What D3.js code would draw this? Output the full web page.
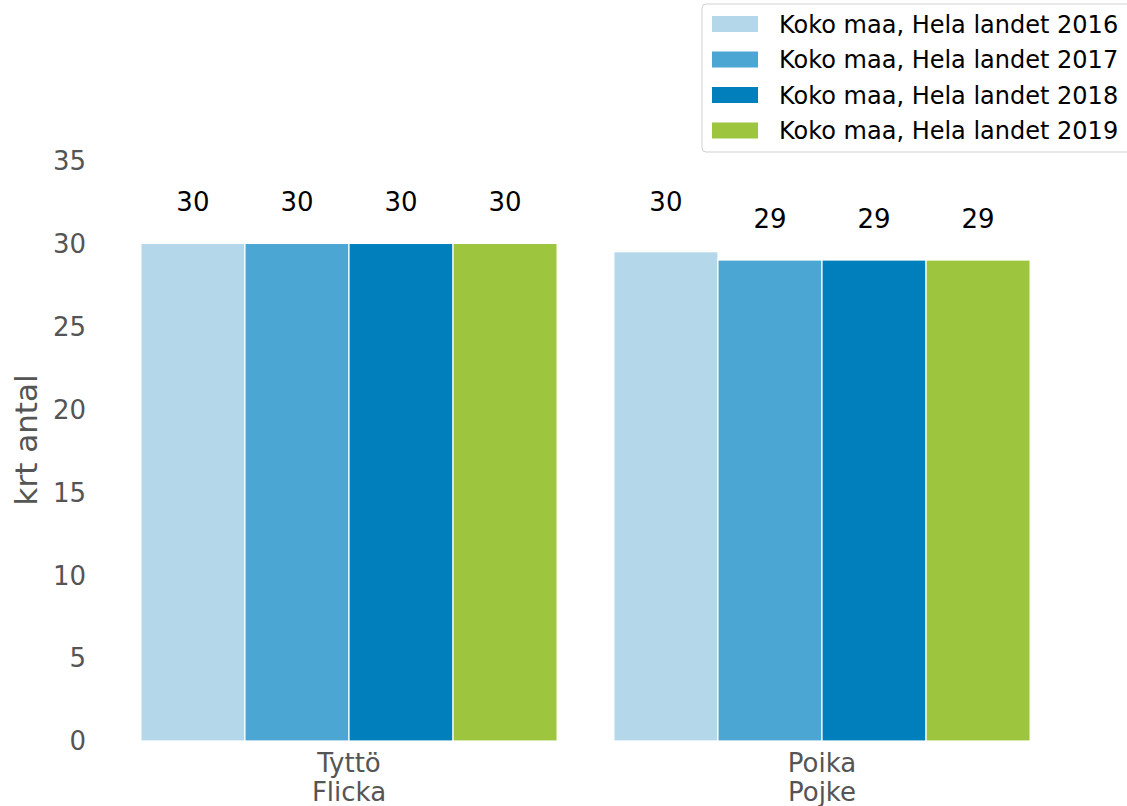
<!DOCTYPE html>
<html>
<head>
<meta charset="utf-8">
<script src="https://cdn.jsdelivr.net/npm/d3@7"></script>
<style>
  body { margin: 0; background: #fff; }
  text { font-family: "DejaVu Sans", sans-serif; }
</style>
</head>
<body>
<svg class="canvas" width="1127" height="806"></svg>
<script>
// data
var categories = ['Tyttö\nFlicka', 'Poika\nPojke'];
var seriesNames = ['Koko maa, Hela landet 2016', 'Koko maa, Hela landet 2017',
                   'Koko maa, Hela landet 2018', 'Koko maa, Hela landet 2019'];
var seriesColors = ['#b4d8ea', '#4ca6d3', '#007fbd', '#9dc53d'];
var values2016 = [30, 29.5];
var values2017 = [30, 29.0];
var values2018 = [30, 29.0];
var values2019 = [30, 29.0];
var yTicks = [0, 5, 10, 15, 20, 25, 30, 35];
var yLabel = 'krt antal';

var seriesValues = [values2016, values2017, values2018, values2019];

var svg = d3.select('.canvas');

var y = d3.scaleLinear().domain([0, 35]).range([741, 160.5]);
var x = d3.scaleBand().domain(categories)
  .range([112.5, 1058.5]).paddingInner(0.12).paddingOuter(0.06);
var xs = d3.scaleBand().domain(d3.range(seriesNames.length))
  .range([0, x.bandwidth()]);

// rows of bars
var rows = [];
categories.forEach(function(c, ci) {
  seriesValues.forEach(function(s, si) {
    rows.push({cat: c, s: si, v: s[ci]});
  });
});

svg.selectAll('.bar')
  .data(rows)
  .enter().append('rect')
  .attr('class', 'bar')
  .attr('x', function(d) { return x(d.cat) + xs(d.s); })
  .attr('y', function(d) { return y(d.v); })
  .attr('width', xs.bandwidth())
  .attr('height', function(d) { return y(0) - y(d.v); })
  .attr('fill', function(d) { return seriesColors[d.s]; })
  .attr('stroke', '#fff')
  .attr('stroke-width', 1.2);

// value labels (placed at the rounded value)
svg.selectAll('.val')
  .data(rows)
  .enter().append('text')
  .attr('class', 'val')
  .attr('x', function(d) { return x(d.cat) + xs(d.s) + xs.bandwidth() / 2; })
  .attr('y', function(d) { return y(Math.round(d.v)) - 32; })
  .attr('text-anchor', 'middle')
  .attr('font-size', 26)
  .attr('fill', '#000')
  .text(function(d) { return Math.round(d.v); });

// y axis labels
svg.selectAll('.ytick')
  .data(yTicks)
  .enter().append('text')
  .attr('class', 'ytick')
  .attr('x', 86)
  .attr('y', function(d) { return y(d); })
  .attr('dy', '0.36em')
  .attr('text-anchor', 'end')
  .attr('font-size', 26)
  .attr('fill', '#555')
  .text(function(d) { return d; });

svg.append('text')
  .attr('transform', 'translate(37,440) rotate(-90)')
  .attr('text-anchor', 'middle')
  .attr('font-size', 31)
  .attr('fill', '#555')
  .text(yLabel);

// x axis labels
categories.forEach(function(c) {
  var t = svg.append('text')
    .attr('x', x(c) + x.bandwidth() / 2)
    .attr('y', 772)
    .attr('text-anchor', 'middle')
    .attr('font-size', 26)
    .attr('fill', '#555');
  c.split('\n').forEach(function(line, i) {
    t.append('tspan')
      .attr('x', x(c) + x.bandwidth() / 2)
      .attr('dy', i === 0 ? 0 : 29)
      .text(line);
  });
});

// legend
var legend = svg.append('g').attr('class', 'legend');
legend.append('rect')
  .attr('x', 702).attr('y', 4)
  .attr('width', 440).attr('height', 148)
  .attr('rx', 4)
  .attr('fill', 'rgba(255,255,255,0.8)')
  .attr('stroke', '#d0d0d0')
  .attr('stroke-width', 1);

var items = legend.selectAll('.item')
  .data(seriesNames)
  .enter().append('g')
  .attr('class', 'item')
  .attr('transform', function(d, i) { return 'translate(0,' + (24 + i * 35.5) + ')'; });

items.append('rect')
  .attr('x', 712).attr('y', -8)
  .attr('width', 46).attr('height', 16)
  .attr('fill', function(d, i) { return seriesColors[i]; });

items.append('text')
  .attr('x', 779)
  .attr('y', 0)
  .attr('dy', '0.36em')
  .attr('font-size', 24)
  .attr('fill', '#000')
  .text(function(d) { return d; });
</script>
</body>
</html>
